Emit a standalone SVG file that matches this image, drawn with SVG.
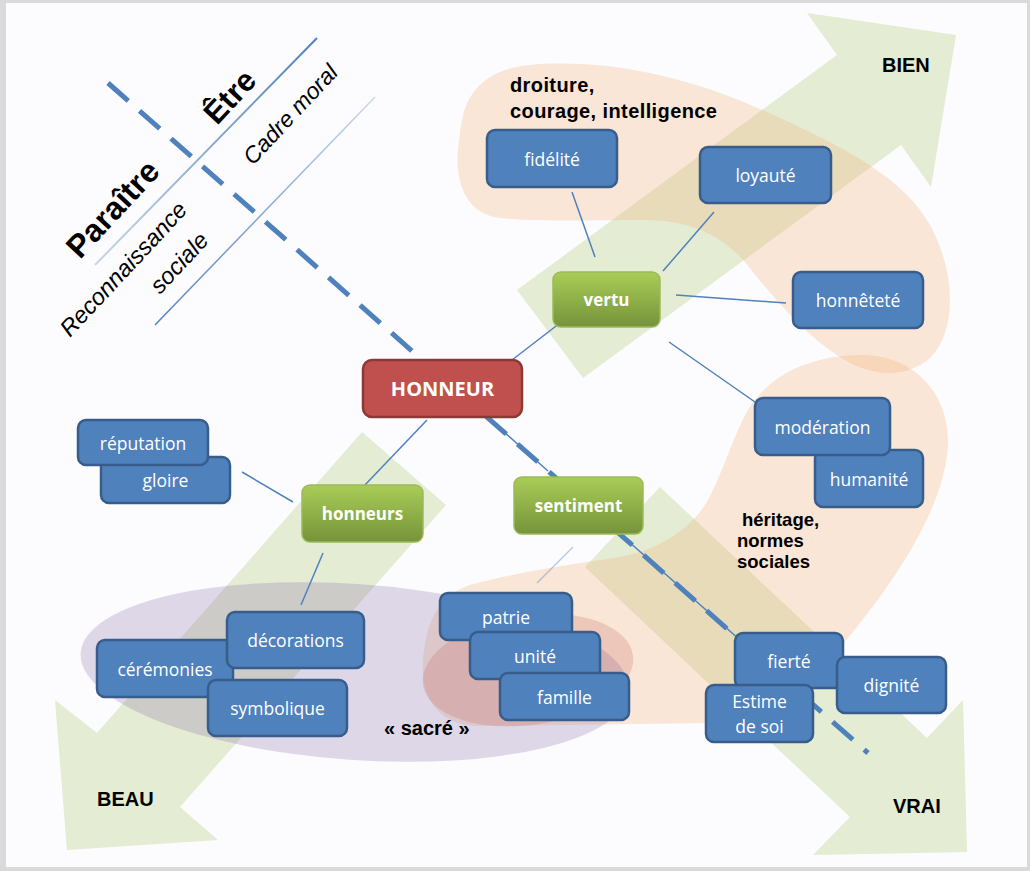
<svg xmlns="http://www.w3.org/2000/svg" width="1030" height="871" viewBox="0 0 1030 871">
<defs>
<linearGradient id="gGreen" x1="0" y1="0" x2="0" y2="1"><stop offset="0" stop-color="#a9cd57"/><stop offset="1" stop-color="#76933b"/></linearGradient>
<linearGradient id="gLine1" gradientUnits="userSpaceOnUse" x1="317" y1="38" x2="95" y2="265"><stop offset="0" stop-color="#4f81bd"/><stop offset="1" stop-color="#4f81bd" stop-opacity="0.3"/></linearGradient>
<linearGradient id="gLine2" gradientUnits="userSpaceOnUse" x1="375" y1="97" x2="155" y2="325"><stop offset="0" stop-color="#4f81bd" stop-opacity="0.3"/><stop offset="1" stop-color="#4f81bd"/></linearGradient>
<style>
.arrow{fill:#9bbb59;fill-opacity:0.25}
.blob{fill:#f2b27a;fill-opacity:0.3}
.box{fill:#4f81bd;stroke:#385d8a;stroke-width:2.5}
.gbox{fill:url(#gGreen);stroke:#9bbb59;stroke-width:1.5}
.rbox{fill:#c0504d;stroke:#8c3836;stroke-width:2.5}
.bt{font-family:"Open Sans",sans-serif;font-size:17.5px;fill:#fff;text-anchor:middle}
.gt{font-family:"Open Sans",sans-serif;font-size:17px;font-weight:bold;fill:#fff;text-anchor:middle}
.big{font-size:20px}
.lab{font-family:"Liberation Sans",Arial,sans-serif;font-weight:bold;fill:#000}
.it{font-family:"Liberation Sans",Arial,sans-serif;font-style:italic;fill:#000}
.conn{stroke:#4f81bd;stroke-width:1.5;fill:none}
</style>
</defs>
<rect width="1030" height="871" fill="#dadada"/>
<rect x="6" y="3" width="1021" height="864" fill="#fcfcfe"/>
<g id="background-shapes">
<polygon class="arrow" points="517,290 837,55 807,13 956,35 931,187 901,145 583,378"/>
<polygon class="arrow" points="362,432 97,733 55,700 67,850 218,840 180,807 446,505"/>
<polygon class="arrow" points="660,487 927,738 963,700 967,852 813,855 850,817 585,567"/>
<path class="blob" d="M462,120 C470,80 500,66 540,64 C620,60 700,80 780,118 C850,150 905,180 930,225 C955,270 958,330 930,358 C905,380 870,375 845,360 C810,340 775,300 745,262 C715,228 680,220 640,220 C600,220 540,222 500,218 C465,214 455,180 458,150 C459,140 460,130 462,120 Z"/>
<path class="blob" d="M470,585 C520,572 560,566 620,557 C660,550 690,528 705,505 C720,480 728,450 745,415 C765,378 805,356 860,355 C910,354 948,390 948,440 C948,500 900,575 848,638 C825,665 805,695 792,722 L480,726 C440,726 420,700 423,660 C426,620 440,595 470,585 Z"/>
<ellipse cx="355" cy="672" rx="275" ry="88" transform="rotate(4 355 672)" fill="#8064a2" fill-opacity="0.24"/>
<ellipse cx="528" cy="670" rx="106" ry="55" transform="rotate(-8 528 670)" fill="#c0504d" fill-opacity="0.2"/>
</g>
<g id="axes">
<line x1="317" y1="38" x2="95" y2="265" stroke="url(#gLine1)" stroke-width="2"/>
<line x1="375" y1="97" x2="155" y2="325" stroke="url(#gLine2)" stroke-width="1.5"/>
<line x1="108" y1="83" x2="868" y2="753" stroke="#4f81bd" stroke-width="5" stroke-dasharray="27 15"/>
<text class="lab" font-size="32" transform="translate(80,260) rotate(-47)">Paraître</text>
<text class="lab" font-size="31" transform="translate(217,126) rotate(-47)">Être</text>
<text class="it" font-size="23" transform="translate(253,166) rotate(-47)">Cadre moral</text>
<text class="it" font-size="23.5" transform="translate(70,338) rotate(-47)">Reconnaissance</text>
<text class="it" font-size="23.5" transform="translate(160,295) rotate(-47)">sociale</text>
</g>
<g id="connectors">
<line class="conn" x1="572" y1="192" x2="595" y2="257"/>
<line class="conn" x1="714" y1="212" x2="663" y2="271"/>
<line class="conn" x1="676" y1="295" x2="786" y2="303"/>
<line class="conn" x1="560" y1="323" x2="512" y2="360" stroke-width="2"/>
<line class="conn" x1="669" y1="342" x2="755" y2="402" stroke-width="1.2"/>
<line class="conn" x1="427" y1="420" x2="364" y2="486" stroke-width="1"/>
<line class="conn" x1="242" y1="472" x2="293" y2="502" stroke-width="2"/>
<line class="conn" x1="323" y1="553" x2="301" y2="605" stroke-width="1.2"/>
<line class="conn" x1="573" y1="547" x2="537" y2="583" stroke-width="1" stroke-opacity="0.4"/>
<line class="conn" x1="487" y1="417" x2="548" y2="471"/>
<line class="conn" x1="628" y1="541" x2="740" y2="640"/>
</g>
<g id="n-fidelite"><rect class="box" x="487" y="130" width="130" height="57" rx="8"/><text class="bt" x="552" y="165.5">fidélité</text></g>
<g id="n-loyaute"><rect class="box" x="700" y="147" width="131" height="56" rx="8"/><text class="bt" x="765.5" y="182">loyauté</text></g>
<g id="n-honnetete"><rect class="box" x="793" y="272" width="130" height="56" rx="8"/><text class="bt" x="858" y="307">honnêteté</text></g>
<g id="n-humanite"><rect class="box" x="815" y="450" width="108" height="57" rx="8"/><text class="bt" x="869" y="485.5">humanité</text></g>
<g id="n-moderation"><rect class="box" x="755" y="398" width="135" height="57" rx="8"/><text class="bt" x="822.5" y="433.5">modération</text></g>
<g id="n-gloire"><rect class="box" x="101" y="457" width="129" height="46" rx="8"/><text class="bt" x="165.5" y="487">gloire</text></g>
<g id="n-reputation"><rect class="box" x="78" y="420" width="130" height="45" rx="8"/><text class="bt" x="143" y="449.5">réputation</text></g>
<g id="n-fierte"><rect class="box" x="735" y="633" width="108" height="55" rx="8"/><text class="bt" x="789" y="668">fierté</text></g>
<g id="n-dignite"><rect class="box" x="837" y="657" width="109" height="56" rx="8"/><text class="bt" x="891.5" y="692">dignité</text></g>
<g id="n-estime"><rect class="box" x="706" y="685" width="107" height="57" rx="8"/><text class="bt" x="759.5" y="708">Estime</text><text class="bt" x="759.5" y="733">de soi</text></g>
<g id="n-patrie"><rect class="box" x="440" y="593" width="132" height="47" rx="8"/><text class="bt" x="506" y="623.5">patrie</text></g>
<g id="n-unite"><rect class="box" x="470" y="632" width="130" height="47" rx="8"/><text class="bt" x="535" y="662.5">unité</text></g>
<g id="n-famille"><rect class="box" x="500" y="673" width="129" height="47" rx="8"/><text class="bt" x="564.5" y="703.5">famille</text></g>
<g id="n-ceremonies"><rect class="box" x="97" y="640" width="136" height="57" rx="8"/><text class="bt" x="165" y="675.5">cérémonies</text></g>
<g id="n-decorations"><rect class="box" x="227" y="612" width="137" height="56" rx="8"/><text class="bt" x="295.5" y="647">décorations</text></g>
<g id="n-symbolique"><rect class="box" x="208" y="680" width="139" height="56" rx="8"/><text class="bt" x="277.5" y="715">symbolique</text></g>
<g id="n-vertu"><rect class="gbox" x="553" y="272" width="107" height="55" rx="8"/><text class="gt" x="606.5" y="306">vertu</text></g>
<g id="n-honneurs"><rect class="gbox" x="302" y="485" width="121" height="57" rx="8"/><text class="gt" x="362.5" y="519.5">honneurs</text></g>
<g id="n-sentiment"><rect class="gbox" x="514" y="477" width="129" height="57" rx="8"/><text class="gt" x="578.5" y="511.5">sentiment</text></g>
<g id="n-honneur"><rect class="rbox" x="363" y="360" width="159" height="57" rx="9"/><text class="gt big" x="442.5" y="396">HONNEUR</text></g>
<g id="labels">
<text class="lab" font-size="20" x="882" y="72">BIEN</text>
<text class="lab" font-size="20" x="97" y="806">BEAU</text>
<text class="lab" font-size="20" x="893" y="813">VRAI</text>
<text class="lab" font-size="20" x="384" y="735">« sacré »</text>
<text class="lab" font-size="20" x="510" y="92" letter-spacing="0.4">droiture,</text>
<text class="lab" font-size="20" x="510" y="118" letter-spacing="0.4">courage, intelligence</text>
<text class="lab" font-size="18.5" x="742" y="526">héritage,</text>
<text class="lab" font-size="18.5" x="737" y="547">normes</text>
<text class="lab" font-size="18.5" x="737" y="568">sociales</text>
</g>
</svg>
